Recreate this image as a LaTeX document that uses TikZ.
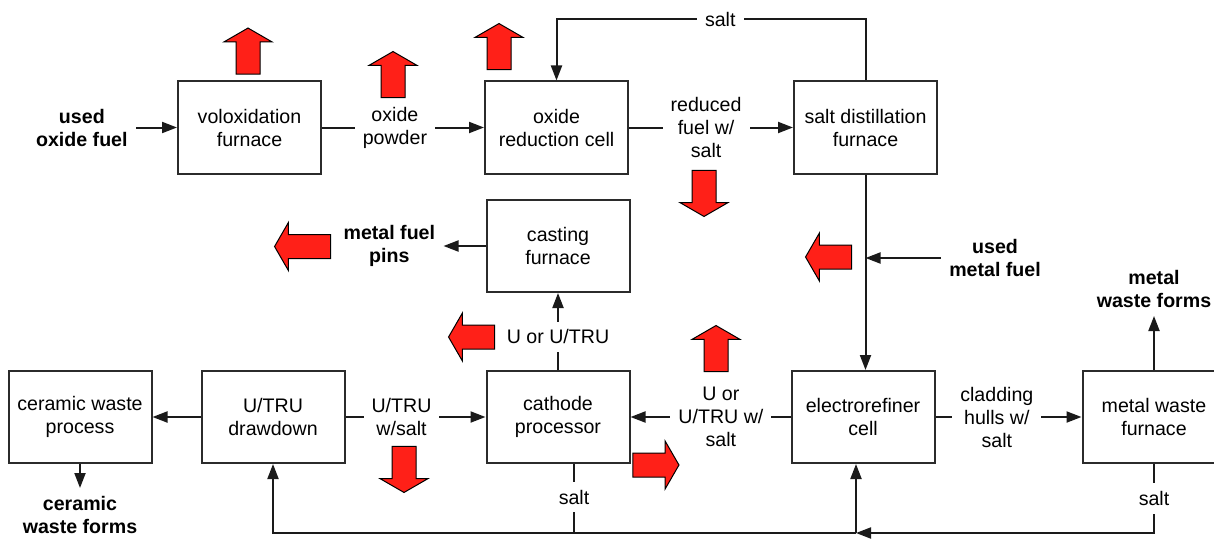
\documentclass[tikz,border=0pt]{standalone}
\usepackage{fontspec}
\setmainfont{Liberation Sans}
\usetikzlibrary{arrows.meta, positioning, calc, shapes.arrows}
\definecolor{cBox}{HTML}{2B2B2B}
\definecolor{cLn}{HTML}{1A1A1A}
\definecolor{cHot}{HTML}{FF2018}

\begin{document}
\begin{tikzpicture}[
    x=0.5pt, y=-0.5pt,
    box/.style={draw=cBox, line width=1pt, minimum width=71.5pt, minimum height=46pt,
                inner sep=0pt, align=center, font=\fontsize{9.8pt}{11.5pt}\selectfont},
    lbl/.style={fill=white, inner sep=4pt, align=center, font=\fontsize{9.8pt}{11.5pt}\selectfont},
    bld/.style={inner sep=4pt, align=center, font=\fontsize{9.8pt}{11.5pt}\selectfont\bfseries},
    ar/.style={-{Triangle[length=7.5pt,width=5.5pt]}, line width=1pt, draw=cLn},
    ln/.style={line width=1pt, draw=cLn},
    hot/.style={single arrow, draw=black, fill=cHot, line width=0.5pt, inner sep=0pt,
                inner ysep=5.75pt, minimum height=23pt, minimum width=23.5pt,
                single arrow head extend=6pt, single arrow tip angle=120},
]
\useasboundingbox (0,0) rectangle (1214,540);

% === ROW 1: oxide fuel -> voloxidation -> oxide reduction -> salt distillation ===
\node[box] (volox) at (249.5,127.5) {voloxidation\\furnace};
\node[box, right=81pt of volox] (oxred) {oxide\\reduction cell};
\node[box, right=82pt of oxred] (saltd) {salt distillation\\furnace};

\node[bld, left=20.5pt of volox] (uof) {used\\oxide fuel};

\draw[ar] (uof) -- (volox);
\draw[ar] (volox) -- node[lbl, pos=0.45] {oxide\\powder} (oxred);
\draw[ar] (oxred) -- node[lbl, pos=0.47] {reduced\\fuel w/\\salt} (saltd);

% salt back to the reduction cell
\coordinate (topY) at (0,19);
\draw[ar] (saltd.north) -- (saltd.north |- topY)
    -- node[lbl, pos=0.47] {salt} (oxred.north |- topY) -- (oxred.north);

% === ROW 2: cathode processor in the middle ===
\node[box] (cath) at (558,417) {cathode\\processor};
\node[box, above=38.5pt of cath] (cast) {casting\\furnace};
\node[box, left=70pt of cath] (drawd) {U/TRU\\drawdown};
\node[box, left=24pt of drawd] (ceram) {ceramic waste\\process};
\node[box, right=80pt of cath] (elec) {electrorefiner\\cell};
\node[box, right=73pt of elec] (mwf) {metal waste\\furnace};

\node[bld, left=21pt of cast] (mfp) {metal fuel\\pins};
\node[bld, below=12pt of ceram] (cwf) {ceramic\\waste forms};
\node[bld, above=27pt of mwf] (mwforms) {metal\\waste forms};
\node[bld] (umf) at (995,258) {used\\metal fuel};

\draw[ar] (saltd) -- (saltd |- elec.north);
\draw[ar] (umf) -- (umf -| saltd.south);
\draw[ar] (elec) -- node[lbl, pos=0.435] {U or\\U/TRU w/\\salt} (cath);
\draw[ar] (elec) -- node[lbl, pos=0.42] {cladding\\hulls w/\\salt} (mwf);
\draw[ar] (mwf) -- (mwforms);
\draw[ar] (cath) -- node[lbl, pos=0.43] {U or U/TRU} (cast);
\draw[ar] (cast) -- (mfp);
\draw[ar] (drawd) -- node[lbl, pos=0.4] {U/TRU\\w/salt} (cath);
\draw[ar] (drawd) -- (ceram);
\draw[ar] (ceram) -- (cwf);

% === salt return line along the bottom ===
\coordinate (botY) at (0,533);
\coordinate (jn) at ([xshift=-3.5pt]elec.south |- botY);
\coordinate (cs) at ([xshift=8pt]cath.south);

\draw[ar] (mwf.south) -- node[lbl] {salt} (mwf.south |- botY) -- (jn);
\draw[ar] (jn) -- (jn |- elec.south);
\draw[ar] (jn) -- (drawd.south |- botY) -- (drawd.south);
\draw[ln] (cs) -- node[lbl, pos=0.48] {salt} (cs |- botY);

% === red heat / product arrows ===
\node[hot, rotate=90]  (hVol)  at (248,54.5) {};
\node[hot, rotate=90]  (hOxp)  at (393,78) {};
\node[hot, rotate=90]  (hOxr)  at (499,50) {};
\node[hot, rotate=-90] (hRed)  at (704,190) {};
\node[hot, rotate=180] (hUmf)  at (832,257) {};
\node[hot, rotate=180, minimum height=28pt] (hPins) at (306,246.5) {};
\node[hot, rotate=180] (hUtru) at (475,337) {};
\node[hot, rotate=90]  (hUsl)  at (716,352) {};
\node[hot, rotate=-90] (hDrw)  at (404,466) {};
\node[hot]             (hCath) at (652.5,465) {};

\end{tikzpicture}
\end{document}
